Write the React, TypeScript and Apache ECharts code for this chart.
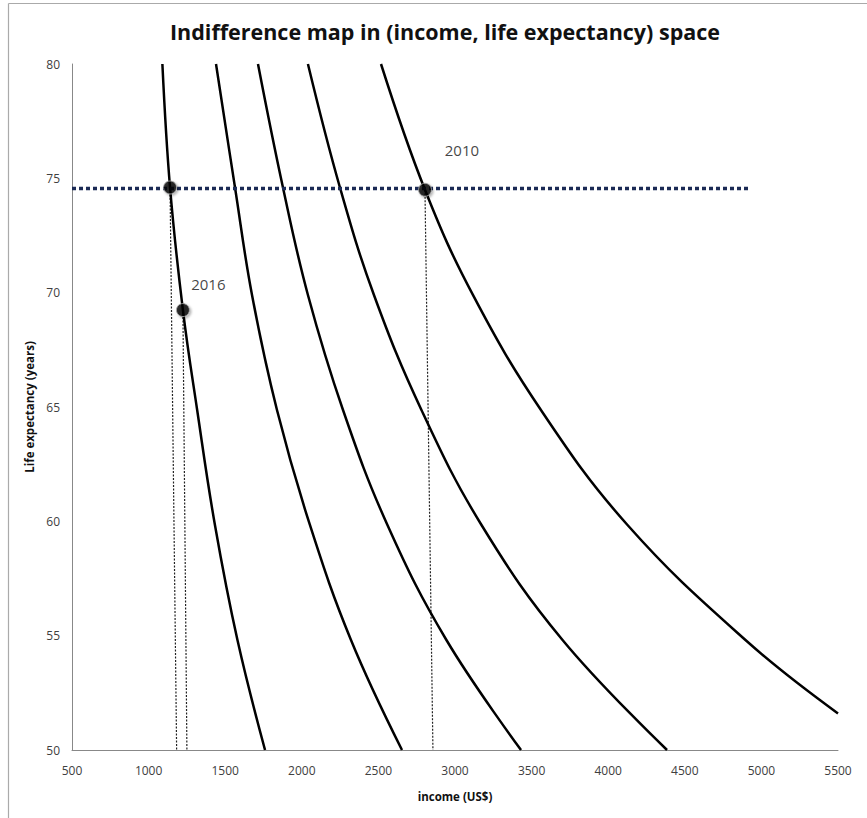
import React, { useEffect, useRef } from "react";
import * as echarts from "echarts";

const titleText = "Indifference map in (income, life expectancy) space";
const xAxisName = "income (US$)";
const yAxisName = "Life expectancy (years)";

// indifference curves: [income, life expectancy]
const curve1: number[][] = [[1090, 80], [1140, 74.6], [1224, 69.24], [1317, 64.87], [1433, 59.84], [1580, 54.81], [1760, 50]];
const curve2: number[][] = [[1440, 80], [1564, 74.6], [1675, 69.9], [1838, 64.87], [2053, 59.84], [2321, 54.81], [2654, 50]];
const curve3: number[][] = [[1714, 80], [1877, 74.6], [2040, 69.9], [2269, 64.87], [2559, 59.84], [2944, 54.81], [3431, 50]];
const curve4: number[][] = [[2040, 80], [2249, 74.6], [2471, 69.9], [2781, 64.87], [3173, 59.84], [3702, 54.81], [4384, 50]];
const curve5: number[][] = [[2517, 80], [2804, 74.5], [3117, 69.9], [3561, 64.87], [4126, 59.84], [4896, 54.81], [5500, 51.6]];

const horizontalLine: number[][] = [[500, 74.55], [4930, 74.55]];
const drop1: number[][] = [[1140, 74.6], [1183, 50]];
const drop2: number[][] = [[1224, 69.24], [1250, 50]];
const drop3: number[][] = [[2804, 74.5], [2856, 50]];

const points: number[][] = [[1140, 74.6], [1224, 69.24], [2804, 74.5]];
const labelPoints: (number | string)[][] = [[3045, 76.24, "2010"], [1390, 70.4, "2016"]];

export default function App() {
  const ref = useRef<HTMLDivElement>(null);
  useEffect(() => {
    document.body.style.margin = "0";
    const chart = echarts.init(ref.current!, null, { renderer: "svg" });
    const font = "Open Sans, Noto Sans, sans-serif";
    const curveSeries = [curve1, curve2, curve3, curve4, curve5].map((c, i) => ({
      type: "line",
      name: "curve" + (i + 1),
      data: c,
      smooth: 0.4,
      showSymbol: false,
      symbol: "none",
      silent: true,
      lineStyle: { color: "#000", width: 2.5 },
      z: 3,
    }));
    const dropSeries = [drop1, drop2, drop3].map((d, i) => ({
      type: "line",
      name: "drop" + (i + 1),
      data: d,
      symbol: "none",
      silent: true,
      lineStyle: { color: "#222", width: 1.2, type: [2, 1.5] },
      z: 2,
    }));
    chart.setOption({
      animation: false,
      title: {
        text: titleText,
        left: 440,
        top: 15,
        textAlign: "center",
        textStyle: { fontFamily: font, fontWeight: "bold", fontSize: 21.5, color: "#111" },
      },
      graphic: [
        { type: "line", shape: { x1: 8.5, y1: 3.5, x2: 867, y2: 3.5 }, style: { stroke: "#aaa", lineWidth: 1.2 } },
        { type: "line", shape: { x1: 8.5, y1: 3.5, x2: 8.5, y2: 818 }, style: { stroke: "#aaa", lineWidth: 1.2 } },
      ],
      grid: { left: 72, right: 29, top: 64, bottom: 68, containLabel: false },
      xAxis: {
        type: "value",
        min: 500,
        max: 5500,
        interval: 500,
        name: xAxisName,
        nameLocation: "middle",
        nameGap: 40,
        nameTextStyle: { fontFamily: font, fontWeight: "bold", fontSize: 11.5, color: "#111" },
        axisLine: { show: true, lineStyle: { color: "#888", width: 1 } },
        axisTick: { show: false },
        splitLine: { show: false },
        axisLabel: { fontFamily: font, fontSize: 12, color: "#404040", margin: 14, formatter: (v: number) => String(v) },
      },
      yAxis: {
        type: "value",
        min: 50,
        max: 80,
        interval: 5,
        name: yAxisName,
        nameLocation: "middle",
        nameGap: 36,
        nameTextStyle: { fontFamily: font, fontWeight: "bold", fontSize: 11.5, color: "#111" },
        axisLine: { show: true, lineStyle: { color: "#888", width: 1 } },
        axisTick: { show: false },
        splitLine: { show: false },
        axisLabel: { fontFamily: font, fontSize: 12, color: "#404040", margin: 12 },
      },
      series: [
        ...curveSeries,
        ...dropSeries,
        {
          type: "line",
          name: "level",
          data: horizontalLine,
          symbol: "none",
          silent: true,
          lineStyle: { color: "#1b2a55", width: 3.5, type: [4, 3] },
          z: 4,
        },
        {
          type: "scatter",
          name: "points",
          data: points,
          symbol: "circle",
          symbolSize: 13,
          silent: true,
          itemStyle: {
            color: "#000",
            borderColor: "#aaa",
            borderWidth: 1,
            shadowColor: "rgba(0,0,0,0.35)",
            shadowBlur: 2,
            shadowOffsetX: 1.5,
            shadowOffsetY: 1.5,
          },
          z: 6,
        },
        {
          type: "scatter",
          name: "labels",
          data: labelPoints,
          symbolSize: 0,
          silent: true,
          label: {
            show: true,
            position: "inside",
            formatter: (p: any) => p.data[2],
            fontFamily: font,
            fontSize: 15,
            color: "#111",
          },
          z: 7,
        },
      ],
    });
    return () => chart.dispose();
  }, []);
  return <div ref={ref} style={{ width: 867, height: 818 }} />;
}
